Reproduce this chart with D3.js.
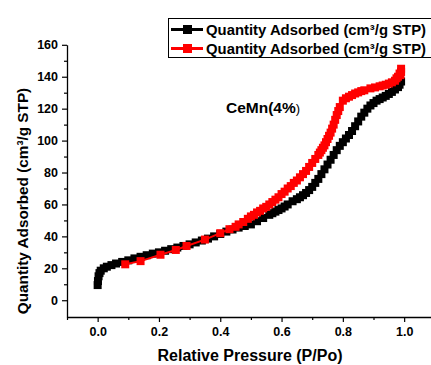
<!DOCTYPE html>
<html>
<head>
<meta charset="utf-8">
<script src="https://cdn.jsdelivr.net/npm/d3@7"></script>
<style>
  body { margin: 0; background: #fff; }
  svg { display: block; font-family: Arial, "Liberation Sans", sans-serif; }
</style>
</head>
<body>
<div id="chart"></div>
<script>
// adsorption branch (black)
const adsP = [0.000, 0.001, 0.003, 0.006, 0.010, 0.020, 0.030, 0.045, 0.060, 0.080,
  0.10, 0.12, 0.14, 0.16, 0.18, 0.20, 0.22, 0.24, 0.26, 0.28, 0.30, 0.32, 0.34, 0.36,
  0.38, 0.40, 0.42, 0.44, 0.46, 0.48, 0.50, 0.52, 0.54, 0.56, 0.57, 0.58, 0.59, 0.60,
  0.61, 0.62, 0.636, 0.65, 0.66, 0.67, 0.68, 0.69, 0.70, 0.71, 0.72, 0.73, 0.74, 0.75,
  0.76, 0.77, 0.78, 0.79, 0.80, 0.81, 0.82, 0.83, 0.84, 0.85, 0.86, 0.87, 0.88, 0.89,
  0.90, 0.91, 0.92, 0.93, 0.94, 0.95, 0.96, 0.97, 0.98, 0.985, 0.99];
const adsQ = [9.5, 12, 15, 17, 18.5, 20, 21, 22, 23, 24,
  25, 26.2, 27.2, 28.2, 29.2, 30, 31, 32, 33, 34, 35, 36.2, 37.4, 38.6,
  40, 41.5, 43, 44.3, 45.5, 46.5, 47.5, 49.5, 51.5, 53.5, 54.5, 55.5, 56.5, 57.5,
  58.7, 60, 62, 63.3, 64.5, 65.8, 67.2, 69, 71, 73.5, 76, 79, 82, 85,
  88, 91, 94, 96.7, 99, 101.3, 103.5, 106, 109, 112, 115, 117.5, 120, 122,
  123.5, 125, 126, 127, 128, 129.2, 130.5, 132, 133.5, 135, 137];

// desorption branch (red)
const desP = [0.99, 0.99, 0.988, 0.985, 0.98, 0.975, 0.97, 0.96, 0.95, 0.94, 0.93,
  0.92, 0.905, 0.89, 0.87, 0.86, 0.85, 0.84, 0.83, 0.82, 0.81, 0.80,
  0.79, 0.785, 0.78, 0.775, 0.77, 0.765, 0.76, 0.755, 0.75, 0.745, 0.74, 0.735,
  0.73, 0.725, 0.72, 0.71, 0.70, 0.69, 0.68, 0.67, 0.66, 0.65, 0.64, 0.63, 0.62,
  0.61, 0.60, 0.59, 0.58, 0.57, 0.56, 0.55, 0.54, 0.53, 0.52, 0.51, 0.50, 0.49,
  0.475, 0.46, 0.45, 0.43, 0.40, 0.35, 0.29, 0.255, 0.205, 0.14, 0.09];
const desQ = [145, 143, 141, 142, 140, 139, 137.5, 136.5, 135.7, 135, 134.5,
  134, 133.3, 132.7, 131.5, 131, 130.2, 129.5, 128.5, 127.5, 126.5, 125,
  121, 118.5, 116, 113, 110, 107.5, 105, 103, 101, 99, 97, 95.5,
  94, 92.5, 91, 88.5, 86, 83.5, 81, 79, 77, 75, 73.5, 71.5, 70,
  68, 66.5, 64.5, 63, 61.5, 60, 58.5, 57.5, 56, 55, 53.5, 52.5, 51,
  49, 47.5, 46, 44.5, 42, 38, 34, 31.5, 28.5, 24.5, 22.5];

const seriesNames = ["Quantity Adsorbed (cm³/g STP)", "Quantity Adsorbed (cm³/g STP)"];
const seriesColors = ["#000000", "#ff0000"];
const yMajor = [0, 20, 40, 60, 80, 100, 120, 140, 160];
const yMinor = [10, 30, 50, 70, 90, 110, 130, 150];
const xMajor = [0.0, 0.2, 0.4, 0.6, 0.8, 1.0];
const xMinor = [-0.1, 0.1, 0.3, 0.5, 0.7, 0.9, 1.1];

const width = 431, height = 365;
const svg = d3.select("#chart").append("svg")
  .attr("width", width)
  .attr("height", height);

const x = d3.scaleLinear().domain([-0.1, 1.1]).range([67, 434.8]);
const y = d3.scaleLinear().domain([-10.5, 160]).range([317, 44.8]);

// axes
const xAxis = svg.append("g")
  .attr("transform", `translate(0, ${y.range()[0]})`)
  .call(d3.axisBottom(x).tickValues(xMajor).tickFormat(d3.format(".1f")).tickSize(5).tickSizeOuter(0));
svg.append("g")
  .attr("transform", `translate(0, ${y.range()[0]})`)
  .call(d3.axisBottom(x).tickValues(xMinor).tickFormat("").tickSize(3).tickSizeOuter(0))
  .select(".domain").remove();

const yAxis = svg.append("g")
  .attr("transform", `translate(${x.range()[0]}, 0)`)
  .call(d3.axisLeft(y).tickValues(yMajor).tickSize(5).tickSizeOuter(0));
svg.append("g")
  .attr("transform", `translate(${x.range()[0]}, 0)`)
  .call(d3.axisLeft(y).tickValues(yMinor).tickFormat("").tickSize(3).tickSizeOuter(0))
  .select(".domain").remove();

svg.selectAll(".domain").attr("stroke", "#000").attr("stroke-width", 1.3);
svg.selectAll(".tick line").attr("stroke", "#000").attr("stroke-width", 1.2);
svg.selectAll(".tick text")
  .attr("font-family", "Arial, 'Liberation Sans', sans-serif")
  .attr("font-size", 12.5)
  .attr("font-weight", "bold")
  .attr("fill", "#000");
xAxis.selectAll(".tick text").attr("dy", "0.85em");
yAxis.selectAll(".tick text").attr("x", -9);

// axis titles
svg.append("text")
  .attr("x", 250).attr("y", 361)
  .attr("text-anchor", "middle")
  .attr("font-size", 16).attr("font-weight", "bold")
  .text("Relative Pressure (P/Po)");

svg.append("text")
  .attr("transform", "translate(28, 201) rotate(-90)")
  .attr("text-anchor", "middle")
  .attr("font-size", 15.3).attr("font-weight", "bold")
  .text("Quantity Adsorbed (cm³/g STP)");

// data
const series = [
  adsP.map((p, i) => ({ p: p, q: adsQ[i] })),
  desP.map((p, i) => ({ p: p, q: desQ[i] }))
];
const line = d3.line().x(d => x(d.p)).y(d => y(d.q));
const ms = 8;

series.forEach((data, k) => {
  const g = svg.append("g");
  g.append("path")
    .datum(data)
    .attr("fill", "none")
    .attr("stroke", seriesColors[k])
    .attr("stroke-width", 2)
    .attr("d", line);
  g.selectAll("rect")
    .data(data)
    .join("rect")
    .attr("x", d => x(d.p) - ms / 2)
    .attr("y", d => y(d.q) - ms / 2)
    .attr("width", ms)
    .attr("height", ms)
    .attr("fill", seriesColors[k]);
});

// annotation
const note = svg.append("text")
  .attr("x", 226).attr("y", 113)
  .attr("font-size", 15.5).attr("font-weight", "bold");
note.append("tspan").text("CeMn(4%");
note.append("tspan").attr("font-weight", "normal").attr("font-size", 13).text(")");

// legend
const legend = svg.append("g");
legend.append("rect")
  .attr("x", 168.5).attr("y", 18.5)
  .attr("width", 270).attr("height", 39)
  .attr("fill", "#fff")
  .attr("stroke", "#000").attr("stroke-width", 1);

seriesNames.forEach((name, k) => {
  const ly = 29.5 + k * 19;
  legend.append("line")
    .attr("x1", 171).attr("x2", 203)
    .attr("y1", ly).attr("y2", ly)
    .attr("stroke", seriesColors[k]).attr("stroke-width", 3);
  legend.append("rect")
    .attr("x", 183).attr("y", ly - 4.5)
    .attr("width", 9).attr("height", 9)
    .attr("fill", seriesColors[k]);
  legend.append("text")
    .attr("x", 206).attr("y", ly + 5)
    .attr("font-size", 15).attr("font-weight", "bold")
    .attr("textLength", 220)
    .attr("lengthAdjust", "spacingAndGlyphs")
    .text(name);
});
</script>
</body>
</html>
